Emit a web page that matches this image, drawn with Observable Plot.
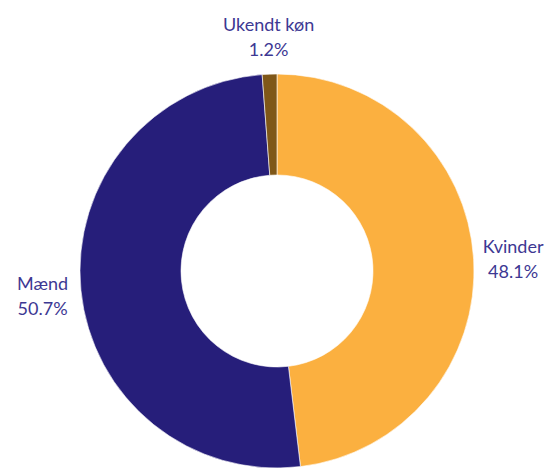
<!DOCTYPE html>
<html>
<head>
<meta charset="utf-8">
<script src="https://cdn.jsdelivr.net/npm/d3@7"></script>
<script src="https://cdn.jsdelivr.net/npm/@observablehq/plot@0.6"></script>
<style>
  body { margin: 0; background: #fff; }
</style>
</head>
<body>
<div id="chart"></div>
<script>
const categories = ["Kvinder", "Mænd", "Ukendt køn"];
const shares = [48.1, 50.7, 1.2];
const colors = ["#FBB040", "#261E7A", "#7F5718"];

const W = 553, H = 469;
const CX = 277, CY = 271;      // pixel center
const R = 197, R0 = 96, RL = 236;

const data = categories.map((c, i) => ({category: c, share: shares[i]}));
const pie = d3.pie().value(d => d.share).sort(null);
const arcs = pie(data);
const labels = arcs.map(a => {
  const m = (a.startAngle + a.endAngle) / 2;
  return {
    x: RL * Math.sin(m),
    y: RL * Math.cos(m),
    text: `${a.data.category}\n${a.data.share.toFixed(1)}%`
  };
});

function donut(index, scales) {
  const cx = scales.x(0), cy = scales.y(0);
  const k = scales.x(1) - scales.x(0);
  const arc = d3.arc().innerRadius(R0 * k).outerRadius(R * k);
  const g = d3.create("svg:g").attr("transform", `translate(${cx},${cy})`);
  g.selectAll("path").data(arcs).join("path")
    .attr("d", arc)
    .attr("fill", (d, i) => colors[i])
    .attr("stroke", "#fff")
    .attr("stroke-width", 0.6);
  return g.node();
}

const chart = Plot.plot({
  width: W,
  height: H,
  margin: 0,
  x: {domain: [-CX, W - CX], range: [0, W], axis: null},
  y: {domain: [CY - H, CY], range: [H, 0], axis: null},
  style: {fontFamily: "Lato, 'Noto Sans', sans-serif", background: "#fff"},
  marks: [
    donut,
    Plot.text(labels, {
      x: "x", y: "y", text: "text",
      fill: "#3D3893", fontSize: 18, lineHeight: 1.39,
      textAnchor: "middle"
    })
  ]
});
document.getElementById("chart").appendChild(chart);
</script>
</body>
</html>
